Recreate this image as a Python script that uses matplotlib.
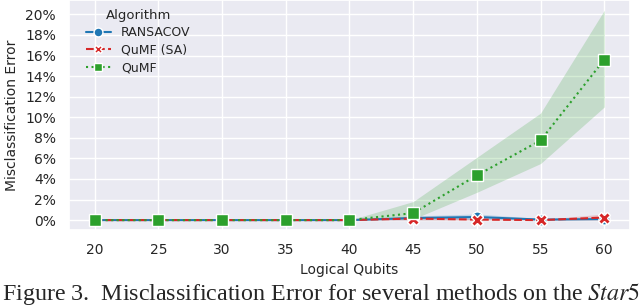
import numpy as np
import matplotlib.pyplot as plt
import seaborn as sns
from matplotlib.ticker import PercentFormatter

qubits = [20, 25, 30, 35, 40, 45, 50, 55, 60]

# misclassification error in %
ransacov = [0, 0, 0, 0, 0, 0.2, 0.3, 0.05, 0.1]
ransacov_lo = [0, 0, 0, 0, 0, 0.0, 0.05, 0.0, 0.0]
ransacov_hi = [0, 0, 0, 0, 0, 0.4, 0.6, 0.15, 0.25]

qumf_sa = [0, 0, 0, 0, 0, 0.15, 0.05, 0.0, 0.25]
qumf_sa_lo = [0, 0, 0, 0, 0, 0.0, 0.0, 0.0, 0.0]
qumf_sa_hi = [0, 0, 0, 0, 0, 0.35, 0.15, 0.05, 0.6]

qumf = [0, 0, 0, 0, 0, 0.68, 4.35, 7.75, 15.6]
qumf_lo = [0, 0, 0, 0, 0, 0.1, 2.7, 5.5, 11.0]
qumf_hi = [0, 0, 0, 0, 0, 1.8, 6.1, 10.4, 20.4]

sns.set_theme(style="darkgrid")
plt.rcParams['font.family'] = ['DejaVu Sans']
plt.rcParams['mathtext.fontset'] = 'stix'

fig = plt.figure(figsize=(6.4, 3.08), dpi=100)
ax = fig.add_axes([0.108, 0.253, 0.876, 0.747])

series = [
    ("RANSACOV", ransacov, ransacov_lo, ransacov_hi, "#1f77b4", "-", "o"),
    ("QuMF (SA)", qumf_sa, qumf_sa_lo, qumf_sa_hi, "#d62728", "--", "X"),
    ("QuMF", qumf, qumf_lo, qumf_hi, "#2ca02c", ":", "s"),
]
for label, y, lo, hi, color, ls, marker in series:
    ax.fill_between(qubits, lo, hi, color=color, alpha=0.2, linewidth=0)
    ax.plot(qubits, y, color=color, linestyle=ls, marker=marker, markersize=8,
            markeredgecolor="white", markeredgewidth=1, linewidth=1.5, label=label)

ax.set_xticks(qubits)
ax.set_yticks(np.arange(0, 21, 2))
ax.yaxis.set_major_formatter(PercentFormatter(decimals=0))
ax.set_xlim(18.0, 62.0)
ax.set_ylim(-0.97, 21.4)
ax.tick_params(labelsize=10)
ax.set_xlabel("Logical Qubits", fontsize=10)
ax.set_ylabel("Misclassification Error", fontsize=10)

ax.legend(title="Algorithm", loc="upper left", bbox_to_anchor=(0.01, 1.01),
          frameon=False, fontsize=9, title_fontsize=9.5, handlelength=2.0,
          labelspacing=0.35, markerscale=0.8)

fig.text(0.003, 0.025, "Figure 3.  Misclassification Error for several methods on the $\\mathit{Star5}$",
         family="Liberation Serif", fontsize=17.3)

fig.savefig("out.png")
